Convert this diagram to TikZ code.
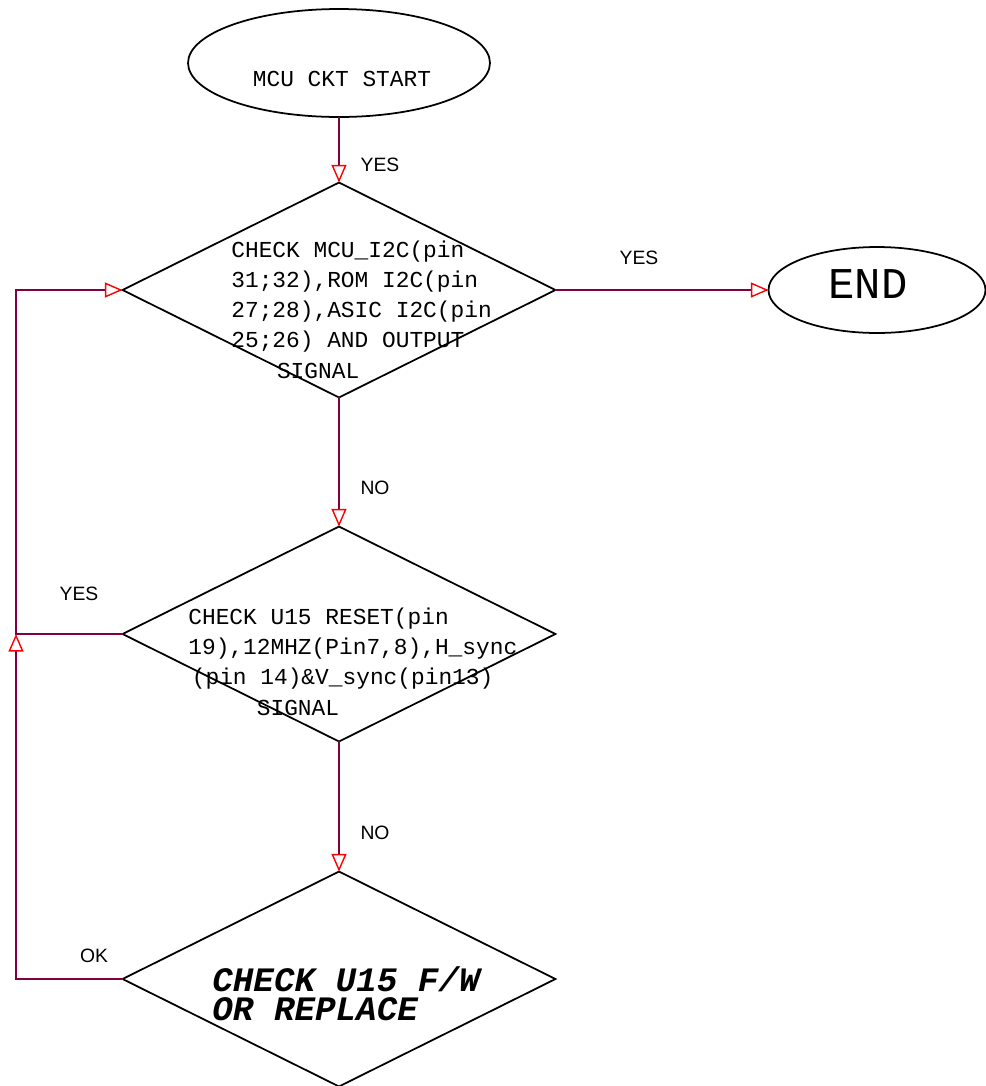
\documentclass[tikz,border=0pt]{standalone}
\usepackage{fontspec}
\setmainfont{Liberation Sans}
\setmonofont{Liberation Mono}
\usepackage{xcolor}
\usetikzlibrary{shapes.geometric}
\usetikzlibrary{arrows.meta}
\definecolor{wirecol}{RGB}{128,0,64}

\begin{document}
\begin{tikzpicture}[x=0.02cm, y=-0.02cm,
		decision/.style={diamond, draw, line width=1pt, minimum width=8.66cm, minimum height=4.3cm, inner sep=0pt, outer sep=0pt},
		terminal/.style={ellipse, draw, line width=1pt, inner sep=0pt, outer sep=0pt},
		flowline/.style={wirecol, line width=1pt, -{Triangle[open, length=10pt, width=8.5pt, color=red, line width=0.8pt]}},
		tag/.style={font=\fontsize{11pt}{13pt}\selectfont},
		codetext/.style={anchor=base west, inner sep=0pt, align=left, font=\ttfamily\fontsize{13pt}{17.2pt}\selectfont}]
		\useasboundingbox (0,0) rectangle (986,1086);

		% Start of the check
		\node (start) at (339,63) [terminal, minimum width=6.04cm, minimum height=2.16cm] {};
		\node (start_txt) at (342,79) [font=\ttfamily\fontsize{13pt}{15pt}\selectfont] {MCU CKT START};

		% First check: I2C buses
		\node (chk_i2c) at (339,290) [decision] {};
		\node (chk_i2c_txt) at (231,378) [codetext] {CHECK MCU\_I2C(pin\\31;32),ROM I2C(pin\\27;28),ASIC I2C(pin\\25;26) AND OUTPUT\\\hspace*{26pt}SIGNAL};

		% End of the check
		\node (finish) at (877,290) [terminal, minimum width=4.34cm, minimum height=1.72cm] {};
		\node (finish_txt) at (868,284) [font=\ttfamily\fontsize{25pt}{27pt}\selectfont] {END};

		% Second check: U15 signals
		\node (chk_u15) at (339,634) [decision] {};
		\node (chk_u15_txt) at (188,715) [codetext] {CHECK U15 RESET(pin\\19),12MHZ(Pin7,8),H\_sync\\\hspace*{2pt}(pin 14)\&V\_sync(pin13)\\\hspace*{39pt}SIGNAL};

		% Last step: firmware
		\node (chk_fw) at (339,979) [decision] {};
		\node (chk_fw_txt) at (212,1020) [codetext, font=\ttfamily\bfseries\itshape\fontsize{19.5pt}{16pt}\selectfont] {CHECK U15 F/W\\OR REPLACE};

		% Connections
		\coordinate (loop_jn) at (16,634);
		\draw [flowline] (start) -- (chk_i2c);
		\draw [flowline] (chk_i2c.east) -- (finish.west);
		\draw [flowline] (chk_i2c.south) -- (chk_u15.north);
		\draw [flowline] (chk_u15.south) -- (chk_fw.north);
		\draw [flowline] (chk_fw.west) -| (loop_jn);
		\draw [flowline] (chk_u15.west) -- (loop_jn) |- (chk_i2c.west);

		% Labels on the connections
		\node (yes_a) at (380,165) [tag] {YES};
		\node (yes_b) at (639,258) [tag] {YES};
		\node (no_a) at (375,488) [tag] {NO};
		\node (no_b) at (375,833) [tag] {NO};
		\node (yes_c) at (79,594) [tag] {YES};
		\node (ok_a) at (94,956) [tag] {OK};
	\end{tikzpicture}
\end{document}
